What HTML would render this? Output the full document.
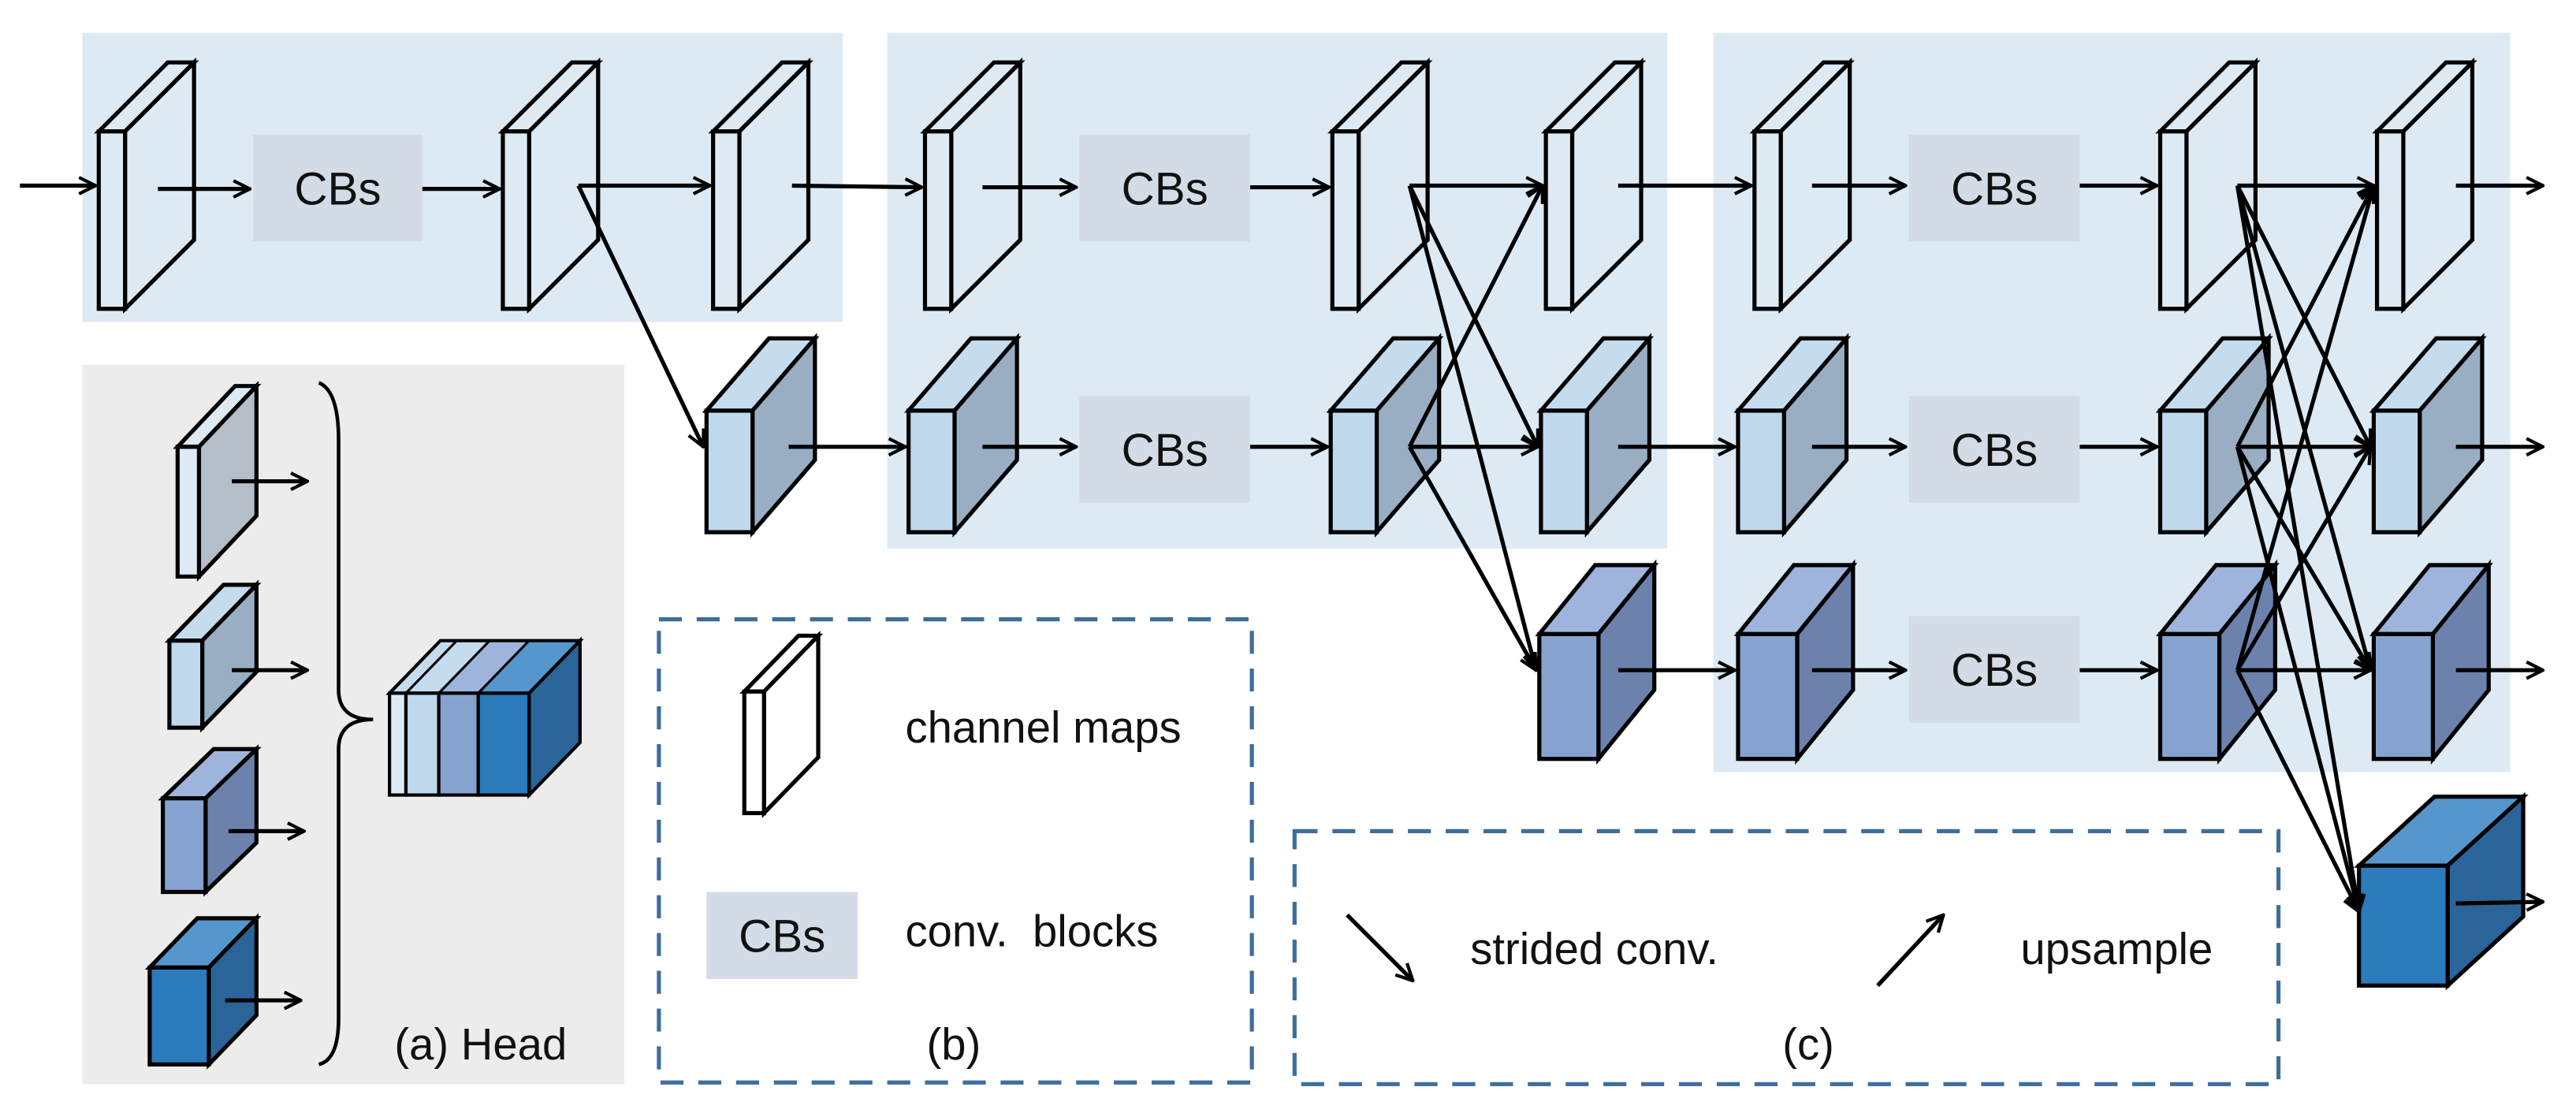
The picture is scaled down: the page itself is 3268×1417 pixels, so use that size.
<!DOCTYPE html>
<html><head><meta charset="utf-8"><style>
html,body{margin:0;padding:0;background:#fff;}
svg{display:block;}
text{font-family:"Liberation Sans",Arial,sans-serif;fill:#111;}
</style></head><body>
<svg id="s" width="3268" height="1417" viewBox="0 0 1568 680" xmlns="http://www.w3.org/2000/svg">
<defs>
<marker id="a" viewBox="0 0 12 12" refX="11" refY="6" markerWidth="12" markerHeight="12" markerUnits="userSpaceOnUse" orient="auto">
<path d="M1,1 L11,6 L1,11" fill="none" stroke="#000" stroke-width="2"/>
</marker>
</defs>
<rect x="50" y="20" width="463" height="176" fill="#ddeaf4"/>
<rect x="540" y="20" width="475" height="314" fill="#ddeaf4"/>
<rect x="1043" y="20" width="485" height="450" fill="#ddeaf4"/>
<rect x="50" y="222" width="330" height="438" fill="#ececec"/>
<rect x="401" y="377" width="361" height="282" fill="none" stroke="#3d6e9c" stroke-width="2.5" stroke-dasharray="14,9"/>
<rect x="788" y="506" width="599" height="154" fill="none" stroke="#3d6e9c" stroke-width="2.5" stroke-dasharray="14,9"/>
<g id="g"></g>
<text x="551" y="452" font-size="27">channel maps</text>
<text x="551" y="576" font-size="27" xml:space="preserve">conv.  blocks</text>
<text x="564" y="645" font-size="27">(b)</text>
<text x="240" y="645" font-size="27">(a) Head</text>
<text x="895" y="587" font-size="27">strided conv.</text>
<text x="1230" y="587" font-size="27">upsample</text>
<text x="1085" y="645" font-size="27">(c)</text>
</svg>
<script>
var g=document.getElementById('g'),h='';
function box(x,y,w,hh,dx,dy,f,t,s){
h+='<polygon points="'+x+','+y+' '+(x+dx)+','+(y-dy)+' '+(x+w+dx)+','+(y-dy)+' '+(x+w)+','+y+'" fill="'+t+'" stroke="#000" stroke-width="2.5" stroke-linejoin="miter"/>';
h+='<polygon points="'+(x+w)+','+y+' '+(x+w+dx)+','+(y-dy)+' '+(x+w+dx)+','+(y+hh-dy)+' '+(x+w)+','+(y+hh)+'" fill="'+s+'" stroke="#000" stroke-width="2.5"/>';
h+='<rect x="'+x+'" y="'+y+'" width="'+w+'" height="'+hh+'" fill="'+f+'" stroke="#000" stroke-width="2.5"/>';
}
function slab(x,y){box(x,y,16,108,42,42,'#ddeaf4','#ddeaf4','none');}
function ln(x1,y1,x2,y2,m){h+='<line x1="'+x1+'" y1="'+y1+'" x2="'+x2+'" y2="'+y2+'" stroke="#000" stroke-width="2.5"'+(m?' marker-end="url(#a)"':'')+'/>';}
function cb(x,y,w,hh){h+='<rect x="'+x+'" y="'+y+'" width="'+w+'" height="'+hh+'" fill="#d3dce6"/><text x="'+(x+w/2)+'" y="'+(y+hh/2+10)+'" font-size="28" text-anchor="middle">CBs</text>';}
cb(154,82,103,65);cb(657,82,104,65);cb(1162,82,104,65);cb(657,241,104,65);cb(1162,241,104,65);cb(1162,375,104,65);cb(430,543,92,53);
[60,306,434,563,811,941,1068,1315,1447].forEach(function(x){slab(x,80);});
var L=['#c0d8ec','#c5dcef','#99aec3'];
[430,553,810,938,1058,1315,1445].forEach(function(x){box(x,250,28,74,38,44,L[0],L[1],L[2]);});
var M=['#86a3d0','#9fb4dc','#6c82ad'];
[937,1058,1315,1445].forEach(function(x){box(x,386,36,76,34,42,M[0],M[1],M[2]);});
box(1436,527,54,73,46,42,'#2b7bbd','#5596cc','#2a6499');
// head
box(108,272,13,79,35,37,'#ddeaf4','#ddeaf4','#b3bec8');
box(103,390,20,53,33,34,'#c0d8ec','#c5dcef','#99aec3');
box(99,486,26,57,31,30,'#86a3d0','#9fb4dc','#6c82ad');
box(91,589,36,59,29,30,'#2b7bbd','#5596cc','#2a6499');
// stacked
h+='<polygon points="237,422 268,390 353,390 322,422" fill="#c5dcef"/>';
h+='<polygon points="267,422 298,390 322,390 291,422" fill="#9fb4dc"/>';
h+='<polygon points="291,422 322,390 353,390 322,422" fill="#5596cc"/>';
h+='<polygon points="237,422 268,390 353,390 322,422" fill="none" stroke="#000" stroke-width="2"/>';
h+='<polygon points="322,422 353,390 353,452 322,484" fill="#2a6499" stroke="#000" stroke-width="2"/>';
h+='<rect x="237" y="422" width="10" height="62" fill="#ddeaf4" stroke="#000" stroke-width="2"/>';
h+='<rect x="247" y="422" width="20" height="62" fill="#c0d8ec" stroke="#000" stroke-width="2"/>';
h+='<rect x="267" y="422" width="24" height="62" fill="#86a3d0" stroke="#000" stroke-width="2"/>';
h+='<rect x="291" y="422" width="31" height="62" fill="#2b7bbd" stroke="#000" stroke-width="2"/>';
h+='<line x1="247" y1="422" x2="278" y2="390" stroke="#000" stroke-width="1.5"/><line x1="267" y1="422" x2="298" y2="390" stroke="#000" stroke-width="1.5"/><line x1="291" y1="422" x2="322" y2="390" stroke="#000" stroke-width="1.5"/>';
// brace
h+='<path d="M194,233 Q206,238 206,268 L206,420 Q206,438 227,438 Q206,438 206,456 L206,620 Q206,645 194,648" fill="none" stroke="#000" stroke-width="2.2"/>';
box(453,421,12,74,33,34,'#fff','#fff','#fff');
ln(141,293,187,293,1);ln(141,408,187,408,1);ln(139,506,185,506,1);ln(137,609,183,609,1);
ln(820,557,860,597,1);ln(1143,600,1183,557,1);
ln(12,113,58,113,1);ln(96,115,152,115,1);ln(257,115,304,115,1);
ln(352,113,432,113,1);ln(352,113,428,272,1);
ln(482,113,561,114,1);ln(480,272,551,272,1);
ln(598,114,655,114,1);ln(761,114,809,114,1);ln(598,272,655,272,1);ln(761,272,808,272,1);
var S2=[[858,113],[858,272]],T2=[[939,113],[936,272],[935,408]];
S2.forEach(function(s){T2.forEach(function(t){ln(s[0],s[1],t[0],t[1],1);});});
ln(985,113,1066,113,1);ln(985,272,1056,272,1);ln(985,408,1056,408,1);
ln(1103,113,1160,113,1);ln(1266,113,1313,113,1);
ln(1103,272,1160,272,1);ln(1266,272,1313,272,1);
ln(1103,408,1160,408,1);ln(1266,408,1313,408,1);
var S3=[[1362,113],[1362,272],[1362,408]],T3=[[1445,113],[1443,272],[1443,408],[1436,555]];
S3.forEach(function(s){T3.forEach(function(t){ln(s[0],s[1],t[0],t[1],1);});});
ln(1495,113,1548,113,1);ln(1495,272,1548,272,1);ln(1495,408,1548,408,1);ln(1495,550,1548,549,1);
g.innerHTML=h;
</script>
</body></html>
